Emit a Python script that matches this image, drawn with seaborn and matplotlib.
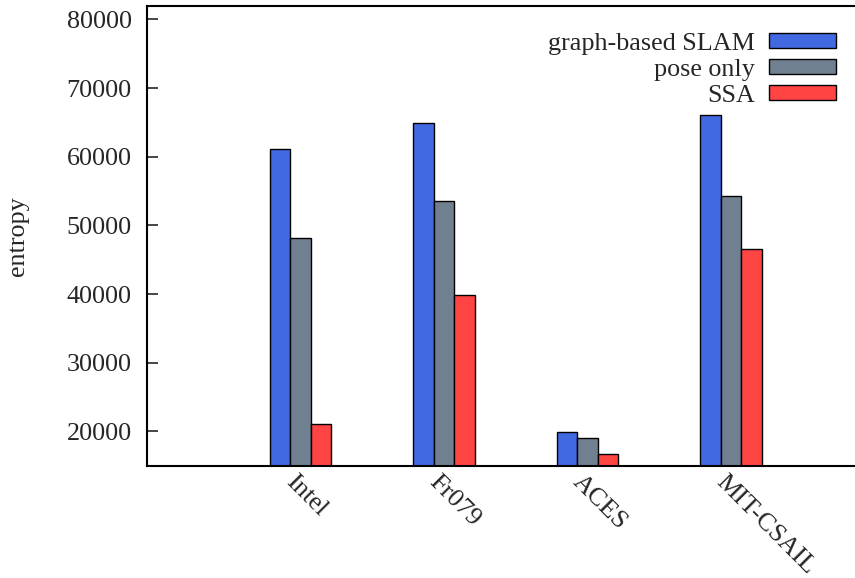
import matplotlib
matplotlib.use("Agg")
import matplotlib.pyplot as plt
import matplotlib.transforms as mtransforms
from matplotlib.patches import Patch
import seaborn as sns
import pandas as pd

datasets = ["Intel", "Fr079", "ACES", "MIT-CSAIL"]
methods = ["graph-based SLAM", "pose only", "SSA"]
graph_slam = [61100, 64900, 19950, 66100]
pose_only = [48200, 53600, 19080, 54250]
ssa = [21100, 39900, 16750, 46500]
colors = ["#4169E1", "#708090", "#FF4444"]
yticks = [20000, 30000, 40000, 50000, 60000, 70000, 80000]

rows = []
for m, vals in zip(methods, [graph_slam, pose_only, ssa]):
    for d, v in zip(datasets, vals):
        rows.append({"dataset": d, "method": m, "entropy": v})
df = pd.DataFrame(rows)

sns.set_style("white")
plt.rcParams["font.family"] = ["Liberation Serif", "DejaVu Serif"]
FS = 18.8

fig = plt.figure(figsize=(8.55, 5.78), dpi=100)
ax = fig.add_axes([147 / 855, 1 - 465.7 / 578, 708 / 855, 460 / 578])

sns.barplot(data=df, x="dataset", y="entropy", hue="method",
            order=datasets, hue_order=methods, palette=colors,
            width=0.4265, edgecolor="black", linewidth=1.0,
            errorbar=None, saturation=1.0, ax=ax, legend=False)

ax.set_xlim(-1.0697, 3.864)
ax.set_ylim(15000, 82000)
ax.set_yticks(yticks)
ax.set_yticklabels([str(t) for t in yticks], fontsize=FS)
ax.tick_params(axis="y", direction="in", length=8, width=1.2, pad=11,
               left=True, right=False)
ax.tick_params(axis="x", length=0, pad=2)

for sp in ["left", "bottom", "top"]:
    ax.spines[sp].set_linewidth(1.5)
    ax.spines[sp].set_color("black")
ax.spines["right"].set_visible(False)

ax.set_xlabel("")
ax.set_ylabel("entropy", fontsize=FS)
ax.yaxis.set_label_coords(-0.166, 0.5)

offset = mtransforms.ScaledTranslation(-3.5 / 100, -3 / 100, fig.dpi_scale_trans)
ax.set_xticks(range(len(datasets)))
ax.set_xticklabels(datasets, fontsize=FS, rotation=-45, ha="left", va="top",
                   rotation_mode="anchor")
for lab in ax.get_xticklabels():
    lab.set_transform(lab.get_transform() + offset)

handles = [Patch(facecolor=c, edgecolor="black", linewidth=1.0) for c in colors]
ax.legend(handles, methods, loc="upper right", bbox_to_anchor=(0.9732, 0.9417),
          frameon=False, markerfirst=False, fontsize=FS, handlelength=2.58,
          handleheight=0.5, handletextpad=0.52, labelspacing=0.16,
          borderpad=0, borderaxespad=0)

fig.savefig("out.png", dpi=100)
